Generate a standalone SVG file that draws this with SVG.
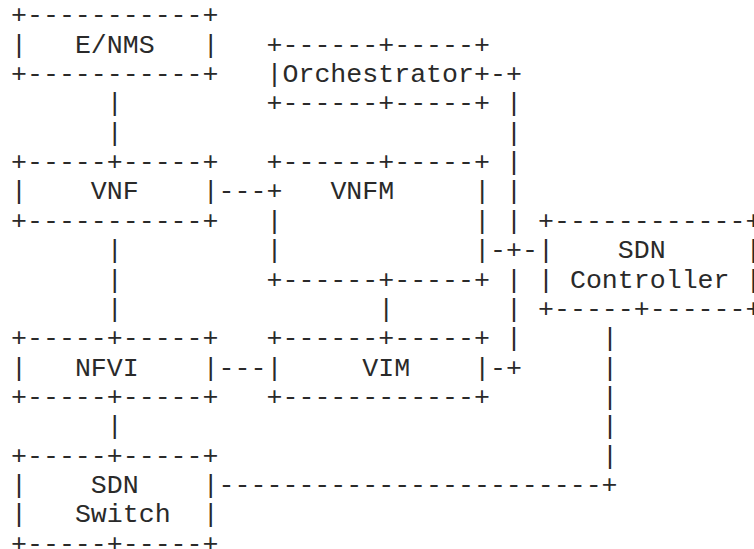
<svg xmlns="http://www.w3.org/2000/svg" width="754" height="549" viewBox="0 0 754 549">
<style>
.t{font-family:"Liberation Mono","Courier New",monospace;font-size:26.6px;fill:#2a2a2a}
</style>
<rect width="754" height="549" fill="#ffffff"/>
<g id="enms" class="t">
<text x="11" y="23.35">+-----------+</text>
<text x="11" y="52.7">|</text>
<text x="74.88" y="52.7">E/NMS</text>
<text x="202.64" y="52.7">|</text>
<text x="11" y="82.05">+-----------+</text>
</g>
<g id="orchestrator" class="t">
<text x="266.52" y="52.7">+------+-----+</text>
<text x="266.52" y="82.05">|Orchestrator+</text>
<text x="266.52" y="111.4">+------+-----+</text>
</g>
<g id="vnf" class="t">
<text x="11" y="170.1">+-----+-----+</text>
<text x="11" y="199.45">|</text>
<text x="90.85" y="199.45">VNF</text>
<text x="202.64" y="199.45">|</text>
<text x="11" y="228.8">+-----------+</text>
</g>
<g id="vnfm" class="t">
<text x="266.52" y="170.1">+------+-----+</text>
<text x="266.52" y="199.45">+</text>
<text x="330.4" y="199.45">VNFM</text>
<text x="474.13" y="199.45">|</text>
<text x="266.52" y="228.8">|</text>
<text x="474.13" y="228.8">|</text>
<text x="266.52" y="258.15">|</text>
<text x="474.13" y="258.15">|</text>
<text x="266.52" y="287.5">+------+-----+</text>
</g>
<g id="sdn-controller" class="t">
<text x="538.01" y="228.8">+------------+</text>
<text x="538.01" y="258.15">|</text>
<text x="617.86" y="258.15">SDN</text>
<text x="745.62" y="258.15">|</text>
<text x="538.01" y="287.5">|</text>
<text x="569.95" y="287.5">Controller</text>
<text x="745.62" y="287.5">|</text>
<text x="538.01" y="316.85">+-----+------+</text>
</g>
<g id="nfvi" class="t">
<text x="11" y="346.2">+-----+-----+</text>
<text x="11" y="375.55">|</text>
<text x="74.88" y="375.55">NFVI</text>
<text x="202.64" y="375.55">|</text>
<text x="11" y="404.9">+-----+-----+</text>
</g>
<g id="vim" class="t">
<text x="266.52" y="346.2">+------+-----+</text>
<text x="266.52" y="375.55">|</text>
<text x="362.34" y="375.55">VIM</text>
<text x="474.13" y="375.55">|</text>
<text x="266.52" y="404.9">+------------+</text>
</g>
<g id="sdn-switch" class="t">
<text x="11" y="463.6">+-----+-----+</text>
<text x="11" y="492.95">|</text>
<text x="90.85" y="492.95">SDN</text>
<text x="202.64" y="492.95">|</text>
<text x="11" y="522.3">|</text>
<text x="74.88" y="522.3">Switch</text>
<text x="202.64" y="522.3">|</text>
<text x="11" y="551.65">+-----+-----+</text>
</g>
<g id="connectors" class="t">
<text x="106.82" y="111.4">|</text>
<text x="106.82" y="140.75">|</text>
<text x="218.61" y="199.45">---</text>
<text x="490.1" y="82.05">-+</text>
<text x="506.07" y="111.4">|</text>
<text x="506.07" y="140.75">|</text>
<text x="506.07" y="170.1">|</text>
<text x="506.07" y="199.45">|</text>
<text x="506.07" y="228.8">|</text>
<text x="490.1" y="258.15">-+-</text>
<text x="506.07" y="287.5">|</text>
<text x="506.07" y="316.85">|</text>
<text x="506.07" y="346.2">|</text>
<text x="490.1" y="375.55">-+</text>
<text x="106.82" y="258.15">|</text>
<text x="106.82" y="287.5">|</text>
<text x="106.82" y="316.85">|</text>
<text x="378.31" y="316.85">|</text>
<text x="218.61" y="375.55">---</text>
<text x="106.82" y="434.25">|</text>
<text x="601.89" y="346.2">|</text>
<text x="601.89" y="375.55">|</text>
<text x="601.89" y="404.9">|</text>
<text x="601.89" y="434.25">|</text>
<text x="601.89" y="463.6">|</text>
<text x="218.61" y="492.95">------------------------+</text>
</g>
</svg>
